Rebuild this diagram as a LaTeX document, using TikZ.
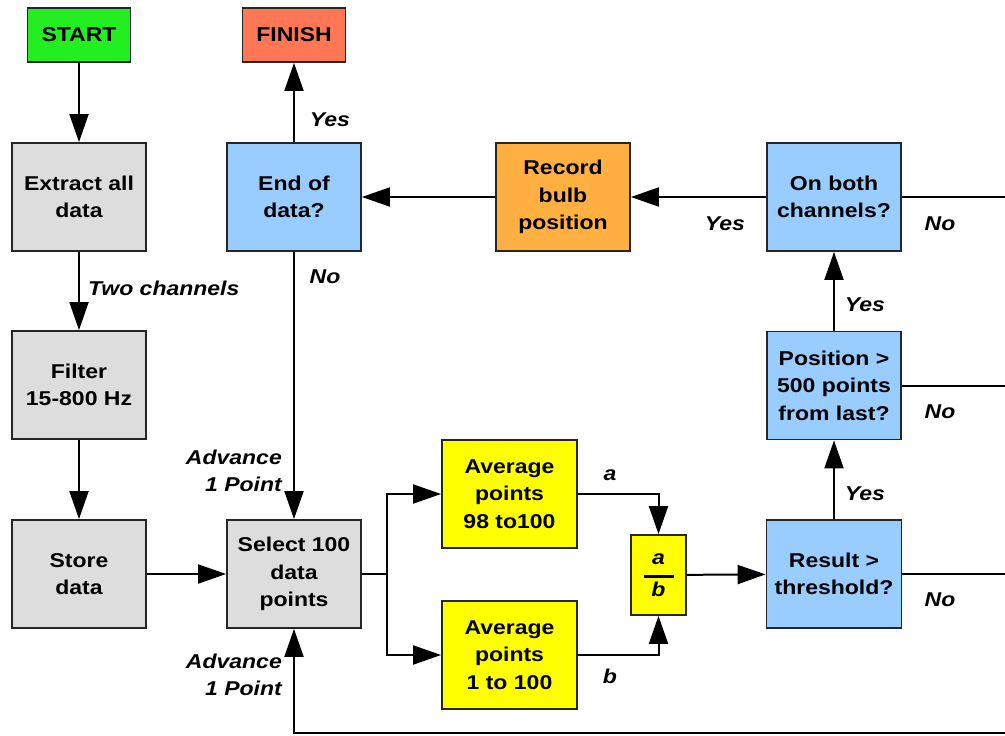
\documentclass[tikz,border=0pt]{standalone}
\usepackage{fontspec}
\setmainfont{Liberation Sans}[FakeStretch=1.15]
\usetikzlibrary{arrows.meta}
\definecolor{cgreen}{HTML}{22EE22}
\definecolor{cred}{HTML}{FF7755}
\definecolor{cgray}{HTML}{DDDDDD}
\definecolor{cblue}{HTML}{99CCFF}
\definecolor{corange}{HTML}{FFB040}
\definecolor{cyellow}{HTML}{FFFF00}
\begin{document}
\begin{tikzpicture}[x=1pt,y=-1pt,
  box/.style={draw=black!85, line width=1.8pt, minimum width=134pt, minimum height=108pt, inner sep=2pt, align=center, font=\fontsize{20}{27.5}\selectfont\bfseries},
  term/.style={box, minimum width=103pt, minimum height=54pt},
  lab/.style={font=\fontsize{20}{27}\selectfont\bfseries\itshape, inner sep=0pt, align=right},
  conn/.style={line width=2pt, draw=black},
  arr/.style={conn, -{Triangle[length=28pt,width=19pt]}}]
\useasboundingbox (0,0) rectangle (1005,736);
% nodes
\node[term, fill=cgreen] (start) at (79,35) {START};
\node[term, fill=cred] (finish) at (294,35) {FINISH};
\node[box, fill=cgray] (extract) at (79,197) {Extract all\\data};
\node[box, fill=cblue] (endd) at (294,197) {End of\\data?};
\node[box, fill=corange] (record) at (563,197) {Record\\bulb\\position};
\node[box, fill=cblue] (onboth) at (834,197) {On both\\channels?};
\node[box, fill=cgray] (filter) at (79,385) {Filter\\15-800 Hz};
\node[box, fill=cblue] (position) at (834,385.5) {Position >\\500 points\\from last?};
\node[box, fill=cgray] (store) at (79,574) {Store\\data};
\node[box, fill=cgray] (select) at (294,574) {Select 100\\data\\points};
\node[box, fill=cyellow, minimum width=135pt] (avg1) at (509.5,494) {Average\\points\\98 to100};
\node[box, fill=cyellow, minimum width=135pt] (avg2) at (509.5,655) {Average\\points\\1 to 100};
\node[box, fill=cyellow, minimum width=55pt, minimum height=80pt, font=\fontsize{20}{16}\selectfont\bfseries\itshape] (ab) at (658.5,575) {a\\\rule[2pt]{30pt}{3pt}\\b};
\node[box, fill=cblue, minimum width=135pt] (result) at (834,574) {Result >\\threshold?};
\coordinate (R) at (1008,0);
\coordinate (bl) at (1008,733);
% connectors
\draw[arr] (start) -- (extract);
\draw[arr] (extract) -- (filter);
\draw[arr] (filter) -- (store);
\draw[arr] (store) -- (select);
\draw[arr] (endd) -- (finish);
\draw[arr] (endd) -- (select);
\draw[conn] (select.east) -- ++(25,0) coordinate (sp);
\draw[arr] (sp) |- (avg1.west);
\draw[arr] (sp) |- (avg2.west);
\draw[arr] (avg1.east) -| (ab.north);
\draw[arr] (avg2.east) -| (ab.south);
\draw[arr] (ab) -- (result);
\draw[arr] (result) -- (position);
\draw[arr] (position) -- (onboth);
\draw[arr] (onboth) -- (record);
\draw[arr] (record) -- (endd);
\draw[conn] (onboth.east) -- (onboth.east -| R);
\draw[conn] (position.east) -- (position.east -| R);
\draw[conn] (result.east) -- (result.east -| R);
\draw[arr] (bl) -| (select.south);
% labels
\node[lab, anchor=west] (l1) at (88,288) {Two channels};
\node[lab] (l2) at (330,120) {Yes};
\node[lab] (l3) at (325,277) {No};
\node[lab, anchor=east] (l4) at (282,471) {Advance\\1 Point};
\node[lab, anchor=east] (l5) at (282,675) {Advance\\1 Point};
\node[lab] (l6) at (610,475) {a};
\node[lab] (l7) at (610,676) {b};
\node[lab] (l8) at (725,224) {Yes};
\node[lab] (l9) at (940,224) {No};
\node[lab] (l10) at (865,305) {Yes};
\node[lab] (l11) at (940,412) {No};
\node[lab] (l12) at (865,494) {Yes};
\node[lab] (l13) at (940,600) {No};
\end{tikzpicture}
\end{document}
